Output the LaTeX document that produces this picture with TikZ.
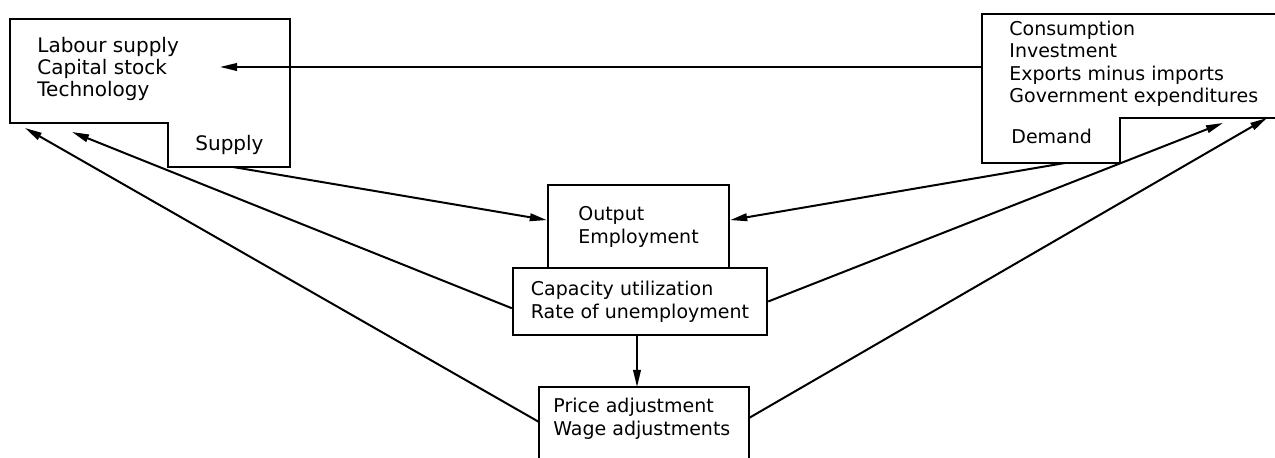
\documentclass[tikz,border=0pt]{standalone}
\usepackage{fontspec}
\setmainfont{DejaVu Sans}
\usetikzlibrary{arrows.meta}
\begin{document}
\begin{tikzpicture}[
  x = 0.5pt, y = -0.5pt,
  caption/.style = {
    align = left,
    anchor = west,
    inner sep = 0pt,
    font = \fontsize{9.5}{11.25}\selectfont,
  },
  block/.style = {
    draw = black,
    line width = 1.2pt,
    align = left,
    inner sep = 0pt,
    font = \fontsize{9.5}{11.5}\selectfont,
  },
  outline/.style = { line width = 1.2pt }
]
  \useasboundingbox (0, 0) rectangle (1275, 458);

  % supply
  \draw[outline] (10, 19) -- (290, 19) -- (290, 167) -- (168, 167)
    -- (168, 123) -- (10, 123) -- cycle;
  \node[caption, font = \fontsize{10}{11.1}\selectfont] (supplylist) at (37, 69)
    {Labour supply\\Capital stock\\Technology};
  \node[caption, font = \fontsize{10}{12}\selectfont] (supplyname) at (195, 145) {Supply};

  % demand
  \draw[outline] (1290, 14) -- (982, 14) -- (982, 163) -- (1120, 163)
    -- (1120, 118) -- (1290, 118);
  \node[caption] (demandlist) at (1009, 64)
    {Consumption\\Investment\\Exports minus imports\\Government expenditures};
  \node[caption] (demandname) at (1011, 136) {Demand};

  % centre
  \node[block, minimum width = 90.5pt, minimum height = 41.5pt]
    (out) at (638.5, 226.5) {Output\\Employment};
  \node[block, minimum width = 127pt, minimum height = 33.5pt]
    (cap) at (640, 301.5) {Capacity utilization\\Rate of unemployment};
  \draw[outline] (539, 470) -- (539, 387) -- (749, 387) -- (749, 470);
  \node[caption] (adj) at (553, 419) {Price adjustment\\Wage adjustments};

  \coordinate (supT) at (220, 67);
  \coordinate (supS) at (233, 167);
  \coordinate (supA) at (25, 128);
  \coordinate (supB) at (72, 132);
  \coordinate (demW) at (982, 67);
  \coordinate (demS) at (1065, 163);
  \coordinate (demA) at (1223, 123);
  \coordinate (demB) at (1267, 118);
  \coordinate (adjN) at (637, 387);
  \coordinate (adjW) at (539, 422);
  \coordinate (adjE) at (749, 418);

  \begin{scope}[
    every path/.style = { -{Triangle[length = 8.5pt, width = 3.8pt]}, line width = 1pt }
  ]
    \draw (demW) -- (supT);
    \draw (supS) -- (out.176);
    \draw (demS) -- (out.4);
    \draw (cap.183) -- (supB);
    \draw (cap.east) -- (demA);
    \draw (cap.south -| adjN) -- (adjN);
    \draw (adjW) -- (supA);
    \draw (adjE) -- (demB);
  \end{scope}
\end{tikzpicture}
\end{document}
